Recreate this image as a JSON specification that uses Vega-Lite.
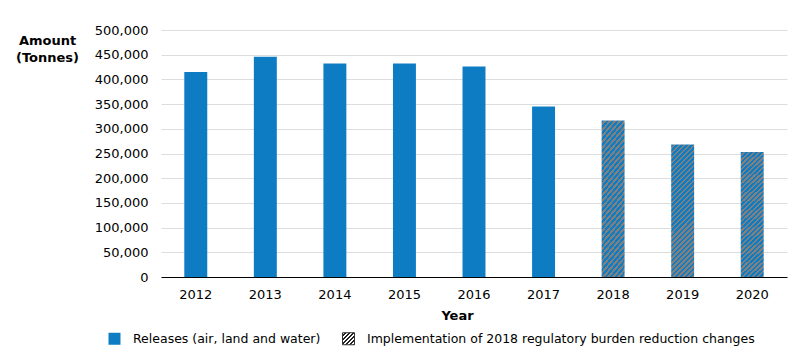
{
  "$schema": "https://vega.github.io/schema/vega-lite/v6.json",
  "width": 626,
  "height": 247,
  "autosize": {"type": "none"},
  "padding": {"left": 161, "top": 30, "right": 13, "bottom": 85},
  "background": "white",
  "config": {"view": {"stroke": null}, "font": "DejaVu Sans"},
  "data": {
    "values": [
      {"Year": 2012, "Amount": 415000, "Type": "Releases (air, land and water)"},
      {"Year": 2013, "Amount": 446000, "Type": "Releases (air, land and water)"},
      {"Year": 2014, "Amount": 432000, "Type": "Releases (air, land and water)"},
      {"Year": 2015, "Amount": 432000, "Type": "Releases (air, land and water)"},
      {"Year": 2016, "Amount": 426000, "Type": "Releases (air, land and water)"},
      {"Year": 2017, "Amount": 345000, "Type": "Releases (air, land and water)"},
      {"Year": 2018, "Amount": 317000, "Type": "Implementation of 2018 regulatory burden reduction changes"},
      {"Year": 2019, "Amount": 268000, "Type": "Implementation of 2018 regulatory burden reduction changes"},
      {"Year": 2020, "Amount": 253000, "Type": "Implementation of 2018 regulatory burden reduction changes"}
    ]
  },
  "mark": {"type": "bar"},
  "encoding": {
    "x": {
      "field": "Year",
      "type": "ordinal",
      "scale": {"paddingInner": 0.67, "paddingOuter": 0.335},
      "axis": {
        "labelAngle": 0,
        "ticks": false,
        "grid": false,
        "domainColor": "#000000",
        "domainWidth": 1,
        "labelPadding": 11,
        "labelFontSize": 13,
        "labelColor": "#000000",
        "title": "Year",
        "titleX": 296,
        "titleY": 32,
        "titleBaseline": "top",
        "titleAlign": "center",
        "titleFontWeight": "bold",
        "titleFontSize": 13,
        "titleColor": "#000000"
      }
    },
    "y": {
      "field": "Amount",
      "type": "quantitative",
      "scale": {"domain": [0, 500000], "nice": false},
      "axis": {
        "values": [0, 50000, 100000, 150000, 200000, 250000, 300000, 350000, 400000, 450000, 500000],
        "format": ",.0f",
        "domain": false,
        "ticks": false,
        "grid": true,
        "gridColor": "#dddddd",
        "labelFontSize": 13,
        "labelPadding": 13,
        "labelColor": "#000000",
        "title": ["Amount", "(Tonnes)"],
        "titleAngle": 0,
        "titleAlign": "center",
        "titleBaseline": "top",
        "titleX": -114,
        "titleY": 4,
        "titleFontSize": 13,
        "titleFontWeight": "bold",
        "titleLineHeight": 17,
        "titleColor": "#000000"
      }
    },
    "color": {
      "field": "Type",
      "type": "nominal",
      "scale": {
        "domain": ["Releases (air, land and water)", "Implementation of 2018 regulatory burden reduction changes"],
        "range": [
          "#0e7cc3",
          {"expr": "{gradient:'linear',x1:0,y1:0,x2:1,y2:1,stops:[{offset:0,color:'#ffffff'},{offset:0.0917,color:'#ffffff'},{offset:0.0917,color:'#222222'},{offset:0.1667,color:'#222222'},{offset:0.1667,color:'#ffffff'},{offset:0.2583,color:'#ffffff'},{offset:0.2583,color:'#222222'},{offset:0.3333,color:'#222222'},{offset:0.3333,color:'#ffffff'},{offset:0.425,color:'#ffffff'},{offset:0.425,color:'#222222'},{offset:0.5,color:'#222222'},{offset:0.5,color:'#ffffff'},{offset:0.5917,color:'#ffffff'},{offset:0.5917,color:'#222222'},{offset:0.6667,color:'#222222'},{offset:0.6667,color:'#ffffff'},{offset:0.7583,color:'#ffffff'},{offset:0.7583,color:'#222222'},{offset:0.8333,color:'#222222'},{offset:0.8333,color:'#ffffff'},{offset:0.925,color:'#ffffff'},{offset:0.925,color:'#222222'},{offset:1,color:'#222222'}]}"}
        ]
      },
      "legend": {
        "orient": "none",
        "legendX": -53,
        "legendY": 302,
        "direction": "horizontal",
        "title": null,
        "symbolType": "square",
        "symbolSize": 144,
        "labelFontSize": 12.5,
        "labelOffset": 12,
        "labelLimit": 1000,
        "columnPadding": 19,
        "labelColor": "#000000",
        "encode": {
          "symbols": {
            "update": {
              "stroke": {"signal": "datum.value === 'Implementation of 2018 regulatory burden reduction changes' ? '#333333' : 'transparent'"},
              "strokeWidth": {"value": 1}
            }
          }
        }
      },
      "condition": {
        "test": "datum.Year >= 2018",
        "value": {
          "gradient": "linear",
          "x1": 0, "y1": 0, "x2": 0.1978, "y2": 1.1392,
          "stops": [
            {"offset": 0, "color": "#0e7cc3"},
            {"offset": 0.0161, "color": "#0e7cc3"}, {"offset": 0.0161, "color": "#808080"},
            {"offset": 0.0323, "color": "#808080"}, {"offset": 0.0323, "color": "#0e7cc3"},
            {"offset": 0.0484, "color": "#0e7cc3"}, {"offset": 0.0484, "color": "#808080"},
            {"offset": 0.0645, "color": "#808080"}, {"offset": 0.0645, "color": "#0e7cc3"},
            {"offset": 0.0806, "color": "#0e7cc3"}, {"offset": 0.0806, "color": "#808080"},
            {"offset": 0.0968, "color": "#808080"}, {"offset": 0.0968, "color": "#0e7cc3"},
            {"offset": 0.1129, "color": "#0e7cc3"}, {"offset": 0.1129, "color": "#808080"},
            {"offset": 0.1290, "color": "#808080"}, {"offset": 0.1290, "color": "#0e7cc3"},
            {"offset": 0.1452, "color": "#0e7cc3"}, {"offset": 0.1452, "color": "#808080"},
            {"offset": 0.1613, "color": "#808080"}, {"offset": 0.1613, "color": "#0e7cc3"},
            {"offset": 0.1774, "color": "#0e7cc3"}, {"offset": 0.1774, "color": "#808080"},
            {"offset": 0.1935, "color": "#808080"}, {"offset": 0.1935, "color": "#0e7cc3"},
            {"offset": 0.2097, "color": "#0e7cc3"}, {"offset": 0.2097, "color": "#808080"},
            {"offset": 0.2258, "color": "#808080"}, {"offset": 0.2258, "color": "#0e7cc3"},
            {"offset": 0.2419, "color": "#0e7cc3"}, {"offset": 0.2419, "color": "#808080"},
            {"offset": 0.2581, "color": "#808080"}, {"offset": 0.2581, "color": "#0e7cc3"},
            {"offset": 0.2742, "color": "#0e7cc3"}, {"offset": 0.2742, "color": "#808080"},
            {"offset": 0.2903, "color": "#808080"}, {"offset": 0.2903, "color": "#0e7cc3"},
            {"offset": 0.3065, "color": "#0e7cc3"}, {"offset": 0.3065, "color": "#808080"},
            {"offset": 0.3226, "color": "#808080"}, {"offset": 0.3226, "color": "#0e7cc3"},
            {"offset": 0.3387, "color": "#0e7cc3"}, {"offset": 0.3387, "color": "#808080"},
            {"offset": 0.3548, "color": "#808080"}, {"offset": 0.3548, "color": "#0e7cc3"},
            {"offset": 0.3710, "color": "#0e7cc3"}, {"offset": 0.3710, "color": "#808080"},
            {"offset": 0.3871, "color": "#808080"}, {"offset": 0.3871, "color": "#0e7cc3"},
            {"offset": 0.4032, "color": "#0e7cc3"}, {"offset": 0.4032, "color": "#808080"},
            {"offset": 0.4194, "color": "#808080"}, {"offset": 0.4194, "color": "#0e7cc3"},
            {"offset": 0.4355, "color": "#0e7cc3"}, {"offset": 0.4355, "color": "#808080"},
            {"offset": 0.4516, "color": "#808080"}, {"offset": 0.4516, "color": "#0e7cc3"},
            {"offset": 0.4677, "color": "#0e7cc3"}, {"offset": 0.4677, "color": "#808080"},
            {"offset": 0.4839, "color": "#808080"}, {"offset": 0.4839, "color": "#0e7cc3"},
            {"offset": 0.5, "color": "#0e7cc3"}, {"offset": 0.5, "color": "#808080"},
            {"offset": 0.5161, "color": "#808080"}, {"offset": 0.5161, "color": "#0e7cc3"},
            {"offset": 0.5323, "color": "#0e7cc3"}, {"offset": 0.5323, "color": "#808080"},
            {"offset": 0.5484, "color": "#808080"}, {"offset": 0.5484, "color": "#0e7cc3"},
            {"offset": 0.5645, "color": "#0e7cc3"}, {"offset": 0.5645, "color": "#808080"},
            {"offset": 0.5806, "color": "#808080"}, {"offset": 0.5806, "color": "#0e7cc3"},
            {"offset": 0.5968, "color": "#0e7cc3"}, {"offset": 0.5968, "color": "#808080"},
            {"offset": 0.6129, "color": "#808080"}, {"offset": 0.6129, "color": "#0e7cc3"},
            {"offset": 0.6290, "color": "#0e7cc3"}, {"offset": 0.6290, "color": "#808080"},
            {"offset": 0.6452, "color": "#808080"}, {"offset": 0.6452, "color": "#0e7cc3"},
            {"offset": 0.6613, "color": "#0e7cc3"}, {"offset": 0.6613, "color": "#808080"},
            {"offset": 0.6774, "color": "#808080"}, {"offset": 0.6774, "color": "#0e7cc3"},
            {"offset": 0.6935, "color": "#0e7cc3"}, {"offset": 0.6935, "color": "#808080"},
            {"offset": 0.7097, "color": "#808080"}, {"offset": 0.7097, "color": "#0e7cc3"},
            {"offset": 0.7258, "color": "#0e7cc3"}, {"offset": 0.7258, "color": "#808080"},
            {"offset": 0.7419, "color": "#808080"}, {"offset": 0.7419, "color": "#0e7cc3"},
            {"offset": 0.7581, "color": "#0e7cc3"}, {"offset": 0.7581, "color": "#808080"},
            {"offset": 0.7742, "color": "#808080"}, {"offset": 0.7742, "color": "#0e7cc3"},
            {"offset": 0.7903, "color": "#0e7cc3"}, {"offset": 0.7903, "color": "#808080"},
            {"offset": 0.8065, "color": "#808080"}, {"offset": 0.8065, "color": "#0e7cc3"},
            {"offset": 0.8226, "color": "#0e7cc3"}, {"offset": 0.8226, "color": "#808080"},
            {"offset": 0.8387, "color": "#808080"}, {"offset": 0.8387, "color": "#0e7cc3"},
            {"offset": 0.8548, "color": "#0e7cc3"}, {"offset": 0.8548, "color": "#808080"},
            {"offset": 0.8710, "color": "#808080"}, {"offset": 0.8710, "color": "#0e7cc3"},
            {"offset": 0.8871, "color": "#0e7cc3"}, {"offset": 0.8871, "color": "#808080"},
            {"offset": 0.9032, "color": "#808080"}, {"offset": 0.9032, "color": "#0e7cc3"},
            {"offset": 0.9194, "color": "#0e7cc3"}, {"offset": 0.9194, "color": "#808080"},
            {"offset": 0.9355, "color": "#808080"}, {"offset": 0.9355, "color": "#0e7cc3"},
            {"offset": 0.9516, "color": "#0e7cc3"}, {"offset": 0.9516, "color": "#808080"},
            {"offset": 0.9677, "color": "#808080"}, {"offset": 0.9677, "color": "#0e7cc3"},
            {"offset": 0.9839, "color": "#0e7cc3"}, {"offset": 0.9839, "color": "#808080"},
            {"offset": 1, "color": "#808080"}
          ]
        }
      }
    }
  }
}
